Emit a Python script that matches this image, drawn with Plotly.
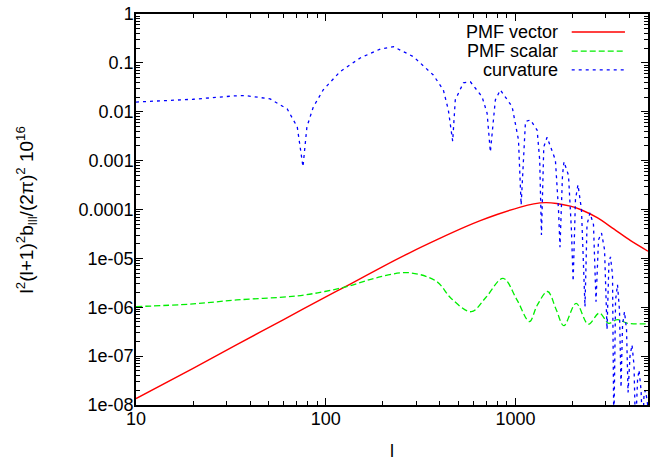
import numpy as np
import plotly.graph_objects as go

# ---- data ----
vec_l = [10, 20, 34, 60, 99, 134, 200, 277, 394, 551, 653, 800, 1062, 1250, 1439,
         1650, 1950, 2203, 2700, 3300, 4048, 5000]
vec_v = [1.35e-8, 5.6e-8, 1.72e-7, 5.6e-7, 1.6e-6, 2.95e-6, 6.8e-6, 1.3e-5,
         2.5e-5, 4.5e-5, 5.9e-5, 7.9e-5, 1.12e-4, 1.30e-4, 1.38e-4, 1.33e-4,
         1.17e-4, 1.0e-4, 6.8e-5, 4.0e-5, 2.3e-5, 1.4e-5]

sca_l = [10, 20, 34, 70, 99, 134, 185, 272, 383, 460, 585, 700, 861, 1021,
         1186, 1303, 1479, 1640, 1800, 2090, 2420, 2773, 3100, 3444, 3900, 5000]
sca_v = [1.03e-6, 1.17e-6, 1.41e-6, 1.7e-6, 2.1e-6, 2.75e-6, 4.0e-6, 5.1e-6,
         3.4e-6, 1.5e-6, 8.1e-7, 1.6e-6, 3.9e-6, 1.4e-6, 5.1e-7, 1.1e-6,
         2.1e-6, 9.0e-7, 4.2e-7, 1.2e-6, 4.5e-7, 7.6e-7, 4.7e-7, 5.6e-7,
         4.7e-7, 4.6e-7]

curv_l = [10, 20, 32.5, 37.6, 50.9, 62.7, 70.8, 75.9, 79.6, 86, 97, 119, 152,
          194, 228, 290, 369, 417, 443, 467, 482, 532, 579, 667, 709, 738, 784,
          833, 961, 1038, 1072, 1130, 1200, 1302, 1343, 1372, 1411, 1469, 1625,
          1687, 1718, 1771, 1803, 1905, 1974, 2015, 2073, 2137, 2230, 2327,
          2385, 2472, 2580, 2660, 2742, 2844, 2951, 3041, 3113, 3172, 3250,
          3303, 3372, 3453, 3538, 3604, 3671, 3759, 3853, 3925, 4018, 4118,
          4219, 4297, 4405, 4486, 4596, 4681, 4767, 4855, 5000]
curv_v = [0.0158, 0.018, 0.021, 0.0215, 0.0183, 0.0114, 0.0049, 7.5e-4, 0.0049,
          0.0125, 0.028, 0.066, 0.126, 0.192, 0.214, 0.134, 0.0566, 0.028,
          0.0109, 0.0025, 0.0175, 0.039, 0.041, 0.0203, 0.0094, 0.0015, 0.0175,
          0.028, 0.0127, 0.00265, 1.24e-4, 0.0063, 0.0068, 0.0042, 0.00103,
          3.0e-5, 0.0019, 0.003, 0.00103, 1.0e-4, 1.7e-5, 5e-4, 9.5e-4, 5e-4,
          3.8e-5, 3.4e-6, 1.6e-4, 3.2e-4, 1.0e-4, 1.03e-6, 4.9e-5, 8.5e-5,
          4.9e-5, 1.3e-6, 2.4e-5, 3.3e-5, 1.5e-5, 3.5e-7, 8.5e-6, 1.07e-5,
          4.6e-6, 3e-9, 1.4e-6, 2.9e-6, 8.6e-7, 2.3e-8, 4.3e-7, 8.1e-7, 3.5e-7,
          1.8e-8, 1.0e-7, 1.7e-7, 6.5e-8, 3e-9, 3.3e-8, 5.2e-8, 2e-8, 3e-9,
          1.7e-8, 2e-8, 9e-9]

x_tickvals = [10, 100, 1000]
x_ticktext = ["10", "100", "1000"]
y_tickvals = [1e-8, 1e-7, 1e-6, 1e-5, 1e-4, 1e-3, 1e-2, 1e-1, 1]
y_ticktext = ["1e-08", "1e-07", "1e-06", "1e-05", "0.0001", "0.001", "0.01", "0.1", "1"]
series_names = ["PMF vector", "PMF scalar", "curvature"]
series_colors = ["#ff0000", "#00ee00", "#0000ff"]
series_dash = ["solid", "6px,3px", "3px,4px"]

FONT = "Liberation Sans, Arial, Helvetica, sans-serif"

x_minor = [m * 10 ** e for e in range(1, 4) for m in range(2, 10) if m * 10 ** e <= 5000]
y_minor = [m * 10.0 ** e for e in range(-8, 0) for m in range(2, 10)]

fig = go.Figure()
fig.add_trace(go.Scatter(x=vec_l, y=vec_v, mode="lines", name=series_names[0],
                         line=dict(color=series_colors[0], width=1.4, shape="spline",
                                   smoothing=0.8, dash=series_dash[0])))
fig.add_trace(go.Scatter(x=sca_l, y=sca_v, mode="lines", name=series_names[1],
                         line=dict(color=series_colors[1], width=1.3, shape="spline",
                                   dash=series_dash[1])))
fig.add_trace(go.Scatter(x=curv_l, y=curv_v, mode="lines", name=series_names[2],
                         line=dict(color=series_colors[2], width=1.3,
                                   dash=series_dash[2])))

axis_common = dict(
    showgrid=False, zeroline=False, showline=True, linecolor="black", linewidth=1.5,
    ticks="inside", ticklen=7, tickwidth=1, tickcolor="black", mirror="ticks",
    tickfont=dict(family=FONT, size=18, color="black"),
)

fig.update_xaxes(type="log", range=[1, np.log10(5000)], tickmode="array",
                 tickvals=x_tickvals, ticktext=x_ticktext, ticklabelstandoff=-3,
                 minor=dict(ticks="inside", ticklen=4, tickwidth=1, tickcolor="black",
                            tickmode="array", tickvals=x_minor, showgrid=False),
                 **axis_common)
fig.update_yaxes(type="log", range=[-8, 0], tickmode="array",
                 tickvals=y_tickvals, ticktext=y_ticktext, ticklabelstandoff=-3,
                 minor=dict(ticks="inside", ticklen=4, tickwidth=1, tickcolor="black",
                            tickmode="array", tickvals=y_minor, showgrid=False),
                 **axis_common)

# legend drawn gnuplot-style: text right-aligned, sample line on its right
rows_y = [0.954, 0.905, 0.857]
annotations = []
shapes = []
for name, col, dsh, yy in zip(series_names, series_colors, series_dash, rows_y):
    annotations.append(dict(text=name, x=0.828, y=yy, xref="paper", yref="paper",
                            xanchor="right", yanchor="middle", showarrow=False,
                            font=dict(family=FONT, size=18, color="black")))
    shapes.append(dict(type="line", xref="paper", yref="paper", x0=0.851, x1=0.955,
                       y0=yy, y1=yy, line=dict(color=col, width=1.3, dash=dsh)))

annotations.append(dict(text="l<sup>2</sup>(l+1)<sup>2</sup>b<sub>lll</sub>/(2π)<sup>2</sup> 10<sup>16</sup>",
                        x=-0.213, y=0.5, xref="paper", yref="paper", textangle=-90,
                        xanchor="center", yanchor="middle", showarrow=False,
                        font=dict(family=FONT, size=19, color="black")))
annotations.append(dict(text="l", x=0.5, y=-0.118, xref="paper", yref="paper",
                        xanchor="center", yanchor="middle", showarrow=False,
                        font=dict(family=FONT, size=18, color="black")))

fig.update_layout(
    width=657, height=460,
    margin=dict(l=136, r=9, t=14, b=55, autoexpand=False),
    paper_bgcolor="white", plot_bgcolor="white",
    showlegend=False,
    annotations=annotations, shapes=shapes,
)

fig.write_html("out.html", config={"displayModeBar": False},
               post_script="document.body.style.margin='0';document.body.style.overflow='hidden';")
